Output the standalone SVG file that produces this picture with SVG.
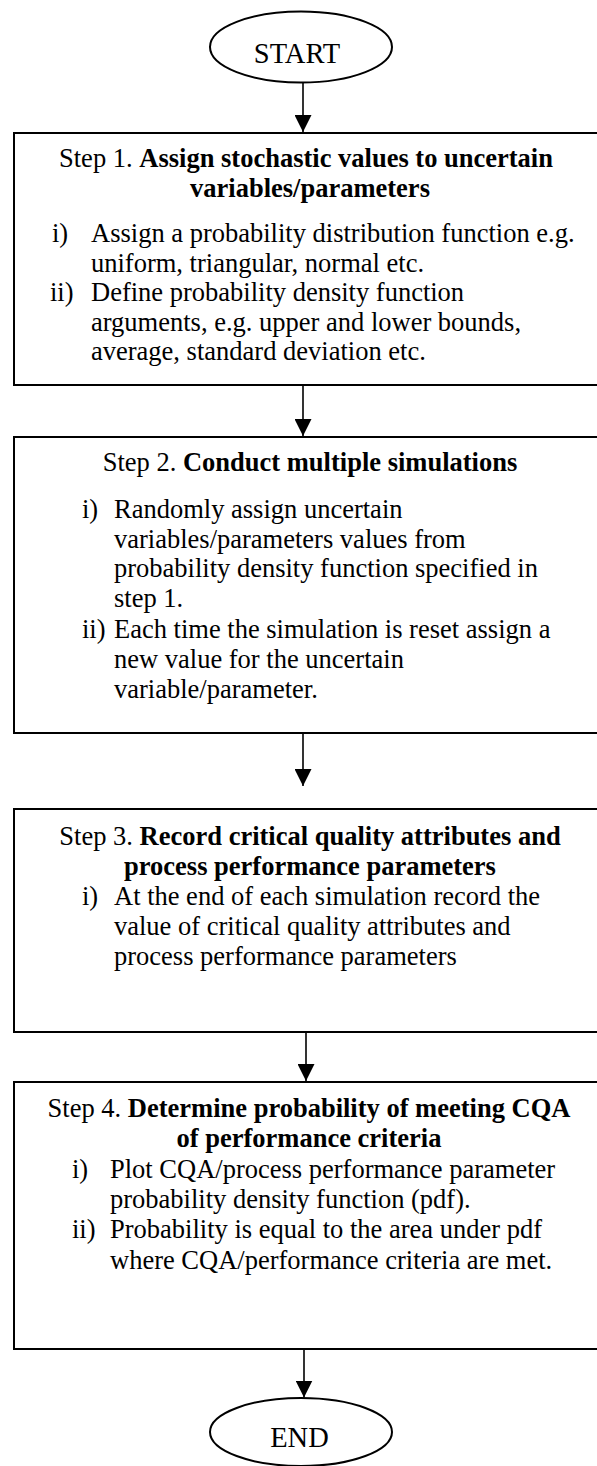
<svg xmlns="http://www.w3.org/2000/svg" width="597" height="1466" viewBox="0 0 597 1466">
<style>
  .bg{fill:#ffffff}
  .box{fill:#ffffff;stroke:#000000;stroke-width:2}
  .term{fill:#ffffff;stroke:#000000;stroke-width:2}
  .t{font-family:"Liberation Serif","Times New Roman",serif;font-size:26.5px;fill:#000000}
  .c{text-anchor:middle}
  .b{font-weight:bold}
  .tt{font-family:"Liberation Serif","Times New Roman",serif;font-size:28.5px;fill:#000000;text-anchor:middle}
  .conn{stroke:#000000;stroke-width:1.6;fill:none}
</style>
<defs>
  <marker id="ah" viewBox="0 0 17 17" refX="17" refY="8.5" markerWidth="17" markerHeight="17" markerUnits="userSpaceOnUse" orient="auto">
    <path d="M0,0 L17,8.5 L0,17 z" fill="#000000"/>
  </marker>
</defs>
<rect class="bg" x="0" y="0" width="597" height="1466"/>

<g id="start">
  <ellipse class="term" cx="301" cy="47" rx="91" ry="35.5"/>
  <text class="tt" x="297" y="63">START</text>
</g>

<g id="step1">
  <rect class="box" x="14" y="133" width="600" height="252"/>
  <text class="t c" x="306" y="167">Step 1. <tspan class="b">Assign stochastic values to uncertain</tspan></text>
  <text class="t c b" x="310" y="197">variables/parameters</text>
  <text class="t" x="52" y="242">i)</text>
  <text class="t" x="91" y="242">Assign a probability distribution function e.g.</text>
  <text class="t" x="91" y="271.5">uniform, triangular, normal etc.</text>
  <text class="t" x="50" y="301">ii)</text>
  <text class="t" x="91" y="301">Define probability density function</text>
  <text class="t" x="91" y="330.5">arguments, e.g. upper and lower bounds,</text>
  <text class="t" x="91" y="360">average, standard deviation etc.</text>
</g>

<g id="step2">
  <rect class="box" x="14" y="437" width="600" height="296"/>
  <text class="t c" x="310" y="471">Step 2. <tspan class="b">Conduct multiple simulations</tspan></text>
  <text class="t" x="82" y="518">i)</text>
  <text class="t" x="114" y="518">Randomly assign uncertain</text>
  <text class="t" x="114" y="547.5">variables/parameters values from</text>
  <text class="t" x="114" y="577">probability density function specified in</text>
  <text class="t" x="114" y="606.5">step 1.</text>
  <text class="t" x="82" y="638">ii)</text>
  <text class="t" x="114" y="638">Each time the simulation is reset assign a</text>
  <text class="t" x="114" y="668">new value for the uncertain</text>
  <text class="t" x="114" y="698">variable/parameter.</text>
</g>

<g id="step3">
  <rect class="box" x="14" y="809" width="600" height="223"/>
  <text class="t c" x="310" y="845">Step 3. <tspan class="b">Record critical quality attributes and</tspan></text>
  <text class="t c b" x="310" y="875">process performance parameters</text>
  <text class="t" x="82" y="905">i)</text>
  <text class="t" x="114" y="905">At the end of each simulation record the</text>
  <text class="t" x="114" y="935">value of critical quality attributes and</text>
  <text class="t" x="114" y="965">process performance parameters</text>
</g>

<g id="step4">
  <rect class="box" x="14" y="1082" width="600" height="267"/>
  <text class="t c" x="309" y="1117">Step 4. <tspan class="b">Determine probability of meeting CQA</tspan></text>
  <text class="t c b" x="309" y="1147">of performance criteria</text>
  <text class="t" x="72" y="1178">i)</text>
  <text class="t" x="110" y="1178">Plot CQA/process performance parameter</text>
  <text class="t" x="110" y="1208">probability density function (pdf).</text>
  <text class="t" x="72" y="1238">ii)</text>
  <text class="t" x="110" y="1238">Probability is equal to the area under pdf</text>
  <text class="t" x="110" y="1269">where CQA/performance criteria are met.</text>
</g>

<g id="end">
  <ellipse class="term" cx="301" cy="1432" rx="91" ry="34"/>
  <text class="tt" x="299.5" y="1447">END</text>
</g>

<g id="connectors">
  <line class="conn" x1="303" y1="82.5" x2="303" y2="132" marker-end="url(#ah)"/>
  <line class="conn" x1="303" y1="386" x2="303" y2="436" marker-end="url(#ah)"/>
  <line class="conn" x1="303" y1="734" x2="303" y2="786" marker-end="url(#ah)"/>
  <line class="conn" x1="306" y1="1033" x2="306" y2="1081" marker-end="url(#ah)"/>
  <line class="conn" x1="304" y1="1350" x2="304" y2="1397.5" marker-end="url(#ah)"/>
</g>
</svg>
